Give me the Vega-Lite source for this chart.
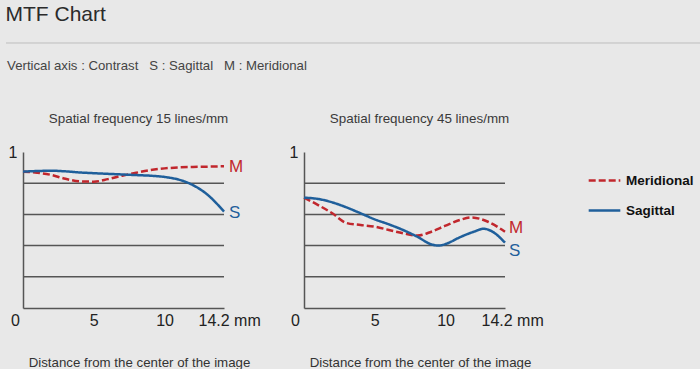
{
  "$schema": "https://vega.github.io/schema/vega-lite/v6.json",
  "background": "#e8e8e8",
  "padding": {"left": 5, "top": 4, "right": 0, "bottom": 0},
  "config": {
    "view": {"stroke": null},
    "font": "Liberation Sans",
    "title": {"fontWeight": "normal", "fontSize": 13.4, "color": "#3a3a3a"}
  },
  "datasets": {
    "mtf": [
      {"panel": "15", "series": "Meridional", "mm": 0, "v": 0.874},
      {"panel": "15", "series": "Meridional", "mm": 1, "v": 0.867},
      {"panel": "15", "series": "Meridional", "mm": 2, "v": 0.853},
      {"panel": "15", "series": "Meridional", "mm": 3, "v": 0.828},
      {"panel": "15", "series": "Meridional", "mm": 4, "v": 0.812},
      {"panel": "15", "series": "Meridional", "mm": 5, "v": 0.81},
      {"panel": "15", "series": "Meridional", "mm": 6, "v": 0.826},
      {"panel": "15", "series": "Meridional", "mm": 7, "v": 0.848},
      {"panel": "15", "series": "Meridional", "mm": 8, "v": 0.867},
      {"panel": "15", "series": "Meridional", "mm": 9, "v": 0.884},
      {"panel": "15", "series": "Meridional", "mm": 10, "v": 0.895},
      {"panel": "15", "series": "Meridional", "mm": 11, "v": 0.901},
      {"panel": "15", "series": "Meridional", "mm": 12, "v": 0.904},
      {"panel": "15", "series": "Meridional", "mm": 13, "v": 0.906},
      {"panel": "15", "series": "Meridional", "mm": 14.2, "v": 0.909},
      {"panel": "15", "series": "Sagittal", "mm": 0, "v": 0.874},
      {"panel": "15", "series": "Sagittal", "mm": 1, "v": 0.878},
      {"panel": "15", "series": "Sagittal", "mm": 2, "v": 0.88},
      {"panel": "15", "series": "Sagittal", "mm": 3, "v": 0.876},
      {"panel": "15", "series": "Sagittal", "mm": 4, "v": 0.869},
      {"panel": "15", "series": "Sagittal", "mm": 5, "v": 0.864},
      {"panel": "15", "series": "Sagittal", "mm": 6, "v": 0.86},
      {"panel": "15", "series": "Sagittal", "mm": 7, "v": 0.856},
      {"panel": "15", "series": "Sagittal", "mm": 8, "v": 0.852},
      {"panel": "15", "series": "Sagittal", "mm": 9, "v": 0.848},
      {"panel": "15", "series": "Sagittal", "mm": 10, "v": 0.84},
      {"panel": "15", "series": "Sagittal", "mm": 11, "v": 0.823},
      {"panel": "15", "series": "Sagittal", "mm": 12, "v": 0.788},
      {"panel": "15", "series": "Sagittal", "mm": 13, "v": 0.729},
      {"panel": "15", "series": "Sagittal", "mm": 14.2, "v": 0.618},
      {"panel": "45", "series": "Meridional", "mm": 0, "v": 0.707},
      {"panel": "45", "series": "Meridional", "mm": 1, "v": 0.66},
      {"panel": "45", "series": "Meridional", "mm": 2, "v": 0.607},
      {"panel": "45", "series": "Meridional", "mm": 3, "v": 0.545},
      {"panel": "45", "series": "Meridional", "mm": 4, "v": 0.532},
      {"panel": "45", "series": "Meridional", "mm": 5, "v": 0.521},
      {"panel": "45", "series": "Meridional", "mm": 6, "v": 0.5},
      {"panel": "45", "series": "Meridional", "mm": 7, "v": 0.479},
      {"panel": "45", "series": "Meridional", "mm": 8, "v": 0.464},
      {"panel": "45", "series": "Meridional", "mm": 9, "v": 0.489},
      {"panel": "45", "series": "Meridional", "mm": 10, "v": 0.528},
      {"panel": "45", "series": "Meridional", "mm": 11, "v": 0.564},
      {"panel": "45", "series": "Meridional", "mm": 11.8, "v": 0.581},
      {"panel": "45", "series": "Meridional", "mm": 13, "v": 0.553},
      {"panel": "45", "series": "Meridional", "mm": 14.2, "v": 0.489},
      {"panel": "45", "series": "Sagittal", "mm": 0, "v": 0.707},
      {"panel": "45", "series": "Sagittal", "mm": 1, "v": 0.699},
      {"panel": "45", "series": "Sagittal", "mm": 2, "v": 0.677},
      {"panel": "45", "series": "Sagittal", "mm": 3, "v": 0.645},
      {"panel": "45", "series": "Sagittal", "mm": 4, "v": 0.607},
      {"panel": "45", "series": "Sagittal", "mm": 5, "v": 0.568},
      {"panel": "45", "series": "Sagittal", "mm": 6, "v": 0.536},
      {"panel": "45", "series": "Sagittal", "mm": 7, "v": 0.5},
      {"panel": "45", "series": "Sagittal", "mm": 8, "v": 0.457},
      {"panel": "45", "series": "Sagittal", "mm": 9, "v": 0.408},
      {"panel": "45", "series": "Sagittal", "mm": 9.5, "v": 0.4},
      {"panel": "45", "series": "Sagittal", "mm": 10, "v": 0.41},
      {"panel": "45", "series": "Sagittal", "mm": 11, "v": 0.453},
      {"panel": "45", "series": "Sagittal", "mm": 12, "v": 0.489},
      {"panel": "45", "series": "Sagittal", "mm": 12.7, "v": 0.508},
      {"panel": "45", "series": "Sagittal", "mm": 13.3, "v": 0.49},
      {"panel": "45", "series": "Sagittal", "mm": 14.2, "v": 0.419}
    ],
    "grid": [{"v": 0.2}, {"v": 0.4}, {"v": 0.6}, {"v": 0.8}],
    "ends": [
      {"panel": "15", "series": "Meridional", "code": "M", "mm": 14.2, "v": 0.909},
      {"panel": "15", "series": "Sagittal", "code": "S", "mm": 14.2, "v": 0.618},
      {"panel": "45", "series": "Meridional", "code": "M", "mm": 14.2, "v": 0.489},
      {"panel": "45", "series": "Sagittal", "code": "S", "mm": 14.2, "v": 0.419}
    ]
  },
  "spacing": 15,
  "vconcat": [
    {
      "data": {"values": [{}]},
      "width": 678,
      "height": 14,
      "title": {"text": "MTF Chart", "anchor": "start", "fontSize": 21, "fontWeight": "normal", "color": "#2b2b2b", "offset": 4},
      "mark": {"type": "rule", "color": "#bdbdbd", "strokeWidth": 1},
      "encoding": {
        "x": {"datum": 0, "type": "quantitative", "scale": {"domain": [0, 1], "range": [-17, 678]}, "axis": null},
        "x2": {"datum": 1},
        "y": {"datum": 0, "type": "quantitative", "scale": {"domain": [0, 1]}, "axis": null}
      }
    },
    {
      "title": {"text": "Vertical axis : Contrast \u00a0\u00a0S : Sagittal \u00a0\u00a0M : Meridional", "anchor": "start", "fontSize": 13.2, "color": "#444444", "offset": 38, "dx": -1},
      "spacing": 28,
      "resolve": {"scale": {"color": "shared", "strokeDash": "shared"}, "legend": {"color": "shared", "strokeDash": "shared"}},
      "hconcat": [
        {
          "width": 201,
          "height": 156,
          "title": {"text": "Spatial frequency 15 lines/mm", "dx": 15, "offset": 19},
          "layer": [
            {
              "data": {"name": "grid"},
              "mark": {"type": "rule", "color": "#555555", "strokeWidth": 1.5},
              "encoding": {"y": {"field": "v", "type": "quantitative"}}
            },
            {
              "data": {"name": "mtf"},
              "transform": [{"filter": "datum.panel == '15'"}],
              "mark": {"type": "line", "interpolate": "monotone", "strokeWidth": 2.5},
              "encoding": {
                "x": {"field": "mm", "type": "quantitative", "scale": {"domain": [0, 14.2], "nice": false},
                  "axis": {"values": [0, 5, 10, 14.2], "labelExpr": "datum.value == 14.2 ? '14.2 mm' : datum.label",
                    "ticks": false, "grid": false, "domainColor": "#555555", "domainWidth": 1.5,
                    "labelFontSize": 16, "labelColor": "#222222", "labelPadding": 4, "labelFlush": false, "labelOverlap": false,
                    "encoding": {"labels": {"dx": {"value": {"expr": "datum.value == 0 ? -8 : datum.value == 14.2 ? -26 : 0"}}, "align": {"value": {"expr": "datum.value == 14.2 ? 'left' : 'center'"}}}},
                    "title": "Distance from the center of the image", "titleFontSize": 13.3, "titleFontWeight": "normal", "titleColor": "#333333", "titlePadding": 27, "titleX": 116}},
                "y": {"field": "v", "type": "quantitative", "scale": {"domain": [0, 1]},
                  "axis": {"values": [1], "format": "d", "ticks": false, "grid": false, "domainColor": "#555555", "domainWidth": 1.5,
                    "labelFontSize": 16, "labelColor": "#222222", "labelPadding": 6, "title": null}},
                "color": {"field": "series", "type": "nominal", "scale": {"domain": ["Meridional", "Sagittal"], "range": ["#c1272d", "#1f5f9b"]},
                  "legend": {"title": null, "orient": "none", "legendX": 564, "legendY": 134, "symbolType": "stroke", "symbolSize": 1000, "symbolStrokeWidth": 2.5,
                    "labelFontSize": 13.5, "labelFontWeight": "bold", "labelColor": "#111111", "labelOffset": 4, "rowPadding": 6}},
                "strokeDash": {"field": "series", "type": "nominal", "scale": {"domain": ["Meridional", "Sagittal"], "range": [[7, 3], [1, 0]]},
                  "legend": {"title": null, "orient": "none", "legendX": 564, "legendY": 134, "symbolType": "stroke", "symbolSize": 1000, "symbolStrokeWidth": 2.5,
                    "labelFontSize": 13.5, "labelFontWeight": "bold", "labelColor": "#111111", "labelOffset": 4, "rowPadding": 6}}
              }
            },
            {
              "data": {"name": "ends"},
              "transform": [{"filter": "datum.panel == '15'"}],
              "mark": {"type": "text", "align": "left", "baseline": "middle", "dx": 5, "dy": 1, "fontSize": 17},
              "encoding": {
                "x": {"field": "mm", "type": "quantitative"},
                "y": {"field": "v", "type": "quantitative"},
                "text": {"field": "code"},
                "color": {"field": "series", "type": "nominal", "legend": null}
              }
            }
          ]
        },
        {
          "width": 201,
          "height": 156,
          "title": {"text": "Spatial frequency 45 lines/mm", "dx": 15, "offset": 19},
          "layer": [
            {
              "data": {"name": "grid"},
              "mark": {"type": "rule", "color": "#555555", "strokeWidth": 1.5},
              "encoding": {"y": {"field": "v", "type": "quantitative"}}
            },
            {
              "data": {"name": "mtf"},
              "transform": [{"filter": "datum.panel == '45'"}],
              "mark": {"type": "line", "interpolate": "monotone", "strokeWidth": 2.5},
              "encoding": {
                "x": {"field": "mm", "type": "quantitative", "scale": {"domain": [0, 14.2], "nice": false},
                  "axis": {"values": [0, 5, 10, 14.2], "labelExpr": "datum.value == 14.2 ? '14.2 mm' : datum.label",
                    "ticks": false, "grid": false, "domainColor": "#555555", "domainWidth": 1.5,
                    "labelFontSize": 16, "labelColor": "#222222", "labelPadding": 4, "labelFlush": false, "labelOverlap": false,
                    "encoding": {"labels": {"dx": {"value": {"expr": "datum.value == 0 ? -9 : datum.value == 14.2 ? -24 : 0"}}, "align": {"value": {"expr": "datum.value == 14.2 ? 'left' : 'center'"}}}},
                    "title": "Distance from the center of the image", "titleFontSize": 13.3, "titleFontWeight": "normal", "titleColor": "#333333", "titlePadding": 27, "titleX": 116}},
                "y": {"field": "v", "type": "quantitative", "scale": {"domain": [0, 1]},
                  "axis": {"values": [1], "format": "d", "ticks": false, "grid": false, "domainColor": "#555555", "domainWidth": 1.5,
                    "labelFontSize": 16, "labelColor": "#222222", "labelPadding": 6, "title": null}},
                "color": {"field": "series", "type": "nominal"},
                "strokeDash": {"field": "series", "type": "nominal"}
              }
            },
            {
              "data": {"name": "ends"},
              "transform": [{"filter": "datum.panel == '45' && datum.code == 'M'"}],
              "mark": {"type": "text", "align": "left", "baseline": "middle", "dx": 4, "dy": -4, "fontSize": 17},
              "encoding": {
                "x": {"field": "mm", "type": "quantitative"},
                "y": {"field": "v", "type": "quantitative"},
                "text": {"field": "code"},
                "color": {"field": "series", "type": "nominal", "legend": null}
              }
            },
            {
              "data": {"name": "ends"},
              "transform": [{"filter": "datum.panel == '45' && datum.code == 'S'"}],
              "mark": {"type": "text", "align": "left", "baseline": "middle", "dx": 4, "dy": 8, "fontSize": 17},
              "encoding": {
                "x": {"field": "mm", "type": "quantitative"},
                "y": {"field": "v", "type": "quantitative"},
                "text": {"field": "code"},
                "color": {"field": "series", "type": "nominal", "legend": null}
              }
            }
          ]
        }
      ]
    }
  ]
}
